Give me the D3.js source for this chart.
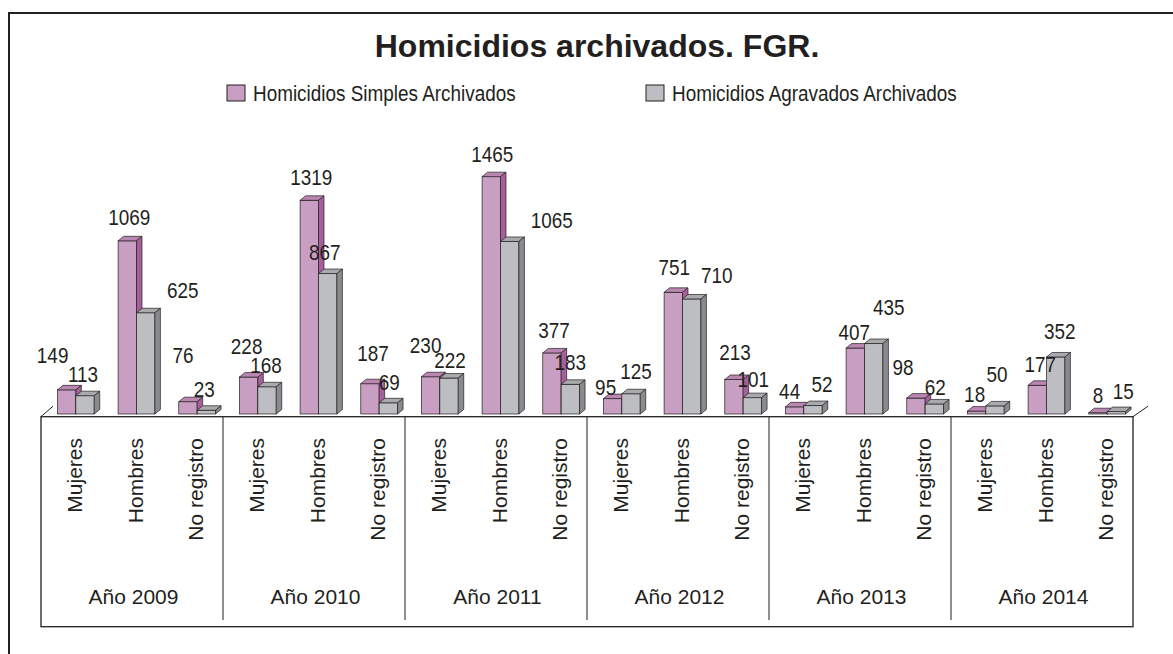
<!DOCTYPE html>
<html>
<head>
<meta charset="utf-8">
<script src="https://cdn.jsdelivr.net/npm/d3@7"></script>
<style>
  html, body { margin: 0; padding: 0; background: #ffffff; }
  svg { display: block; }
  .narrow { font-family: "Liberation Sans Narrow", "Arial Narrow", "Liberation Sans", Arial, sans-serif; }
  .reg { font-family: "Liberation Sans", Arial, sans-serif; }
</style>
</head>
<body>
<svg id="chart" width="1173" height="654"></svg>
<script>
// ---------- data ----------
const title = "Homicidios archivados. FGR.";
const years = ["Año 2009", "Año 2010", "Año 2011", "Año 2012", "Año 2013", "Año 2014"];
const groups = ["Mujeres", "Hombres", "No registro"];
const seriesNames = ["Homicidios Simples Archivados", "Homicidios Agravados Archivados"];
// values ordered year by year: Mujeres, Hombres, No registro
const simples   = [149, 1069, 76,  228, 1319, 187,  230, 1465, 377,  95, 751, 213,  44, 407, 98,  18, 177, 8];
const agravados = [113, 625, 23,   168, 867, 69,    222, 1065, 183,  125, 710, 101, 52, 435, 62,  50, 352, 15];

// ---------- layout (label nudges, px: [dx, dy] from bar top-centre) ----------
const nudgeSimples = [[-14,-27],[2,-16],[-5,-39],[-2,-23],[2,-15],[3,-23],[-5,-24],[1,-15],[2,-15],
                      [-7,-4],[1,-17],[1,-19],[-5,-8],[-1,-8],[-13,-23],[-2,-9],[3,-13],[0,-10]];
const nudgeAgravados = [[-2,-14],[37,-15],[-2,-13],[-1,-14],[-3,-14],[1,-13],[1,-10],[42,-13],[0,-14],
                        [5,-15],[25,-16],[1,-11],[9,-14],[15,-29],[1,-9],[2,-24],[4,-18],[7,-13]];

const colors = {
  simples:   { front: "#c99ec3", top: "#bb87b2", side: "#a5609c" },
  agravados: { front: "#bdbec1", top: "#a9aaad", side: "#8a8b8e" }
};
const ink = "#231f20";
const squeeze = 0.86;   // condensed look for value labels and legend

const svg = d3.select("#chart");

// frame
svg.append("path").attr("d", "M9,654 V13 H1173").attr("fill", "none")
  .attr("stroke", ink).attr("stroke-width", 2);

// title
svg.append("text").attr("class", "reg").attr("x", 597).attr("y", 57)
  .attr("text-anchor", "middle").attr("font-size", 32).attr("font-weight", "bold")
  .attr("fill", ink).text(title);

// legend
const legendX = [227, 646];
seriesNames.forEach((name, i) => {
  const c = i === 0 ? colors.simples.front : colors.agravados.front;
  svg.append("rect").attr("x", legendX[i]).attr("y", 85).attr("width", 18).attr("height", 16)
    .attr("fill", c).attr("stroke", ink).attr("stroke-width", 1);
  svg.append("text").attr("class", "narrow")
    .attr("transform", `translate(${legendX[i] + 26},101) scale(${squeeze},1)`)
    .attr("font-size", 22).attr("fill", ink).text(name);
});

// scales
const left = 41, right = 1133, base = 414, floorY = 416.7, boxBottom = 626.7;
const x0 = d3.scaleBand().domain(years).range([left, right]);
const x1 = d3.scaleBand().domain(groups).range([0, x0.bandwidth()]);
const xs = d3.scaleBand().domain(["simples", "agravados"]).range([-18.4, 18.4]);
const y = d3.scaleLinear().domain([0, 1500]).range([base, 171]);
const ddx = 5.5, ddy = -4.5;

// floor
svg.append("line").attr("x1", left).attr("y1", floorY).attr("x2", left + 12).attr("y2", floorY - 10.5)
  .attr("stroke", ink).attr("stroke-width", 1);
svg.append("line").attr("x1", right).attr("y1", floorY).attr("x2", right + 15).attr("y2", floorY - 10.5)
  .attr("stroke", ink).attr("stroke-width", 1);

// category box
svg.append("rect").attr("x", left).attr("y", floorY).attr("width", right - left)
  .attr("height", boxBottom - floorY).attr("fill", "none").attr("stroke", ink).attr("stroke-width", 1.3);
years.slice(1).forEach(yr => {
  svg.append("line").attr("x1", x0(yr)).attr("x2", x0(yr)).attr("y1", floorY).attr("y2", 620)
    .attr("stroke", ink).attr("stroke-width", 1);
});

// data rows
const rows = [];
years.forEach((yr, yi) => groups.forEach((g, gi) => {
  const i = yi * 3 + gi;
  rows.push({ yr, g, i, simples: simples[i], agravados: agravados[i] });
}));

function bar(gSel, x, v, w, col) {
  const yt = y(v);
  gSel.append("rect").attr("x", x).attr("y", yt).attr("width", w).attr("height", base - yt)
    .attr("fill", col.front).attr("stroke", ink).attr("stroke-width", 0.7);
  gSel.append("path")
    .attr("d", `M${x},${yt} L${x + ddx},${yt + ddy} L${x + w + ddx},${yt + ddy} L${x + w},${yt} Z`)
    .attr("fill", col.top).attr("stroke", ink).attr("stroke-width", 0.7);
  gSel.append("path")
    .attr("d", `M${x + w},${yt} L${x + w + ddx},${yt + ddy} L${x + w + ddx},${base + ddy} L${x + w},${base} Z`)
    .attr("fill", col.side).attr("stroke", ink).attr("stroke-width", 0.7);
}

const barsG = svg.append("g");
const labelsG = svg.append("g");
const w = xs.bandwidth();
rows.forEach(r => {
  const cx = x0(r.yr) + x1(r.g) + x1.bandwidth() / 2 + 4.5;
  ["simples", "agravados"].forEach(s => {
    const bx = cx + xs(s);
    const v = r[s];
    bar(barsG, bx, v, w, colors[s]);
    const nd = (s === "simples" ? nudgeSimples : nudgeAgravados)[r.i];
    labelsG.append("text").attr("class", "narrow")
      .attr("transform", `translate(${bx + w / 2 + nd[0]},${y(v) + nd[1]}) scale(${squeeze},1)`)
      .attr("text-anchor", "middle").attr("font-size", 22).attr("fill", ink).text(v);
  });
  // category label (rotated)
  const lx = x0(r.yr) + x1(r.g) + x1.bandwidth() / 2 + 3;
  svg.append("text").attr("class", "reg")
    .attr("transform", `translate(${lx},438) rotate(-90)`)
    .attr("text-anchor", "end").attr("dy", "0.36em")
    .attr("font-size", 21).attr("fill", ink).text(r.g);
});

// year labels
years.forEach(yr => {
  svg.append("text").attr("class", "reg").attr("x", x0(yr) + x0.bandwidth() / 2 + 1.5).attr("y", 604)
    .attr("text-anchor", "middle").attr("font-size", 21).attr("fill", ink).text(yr);
});
</script>
</body>
</html>
